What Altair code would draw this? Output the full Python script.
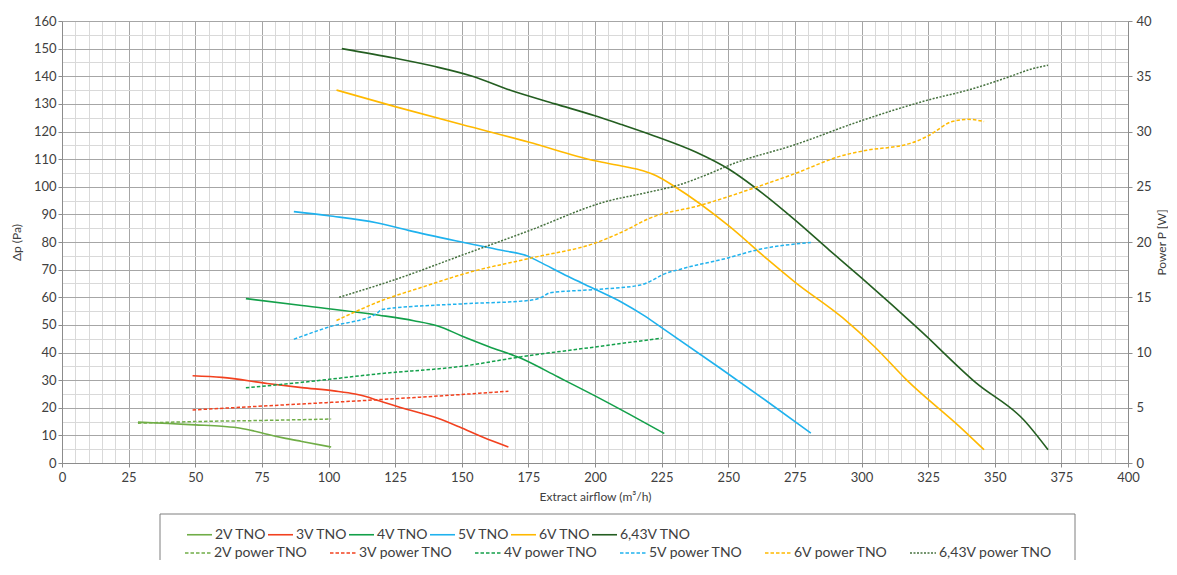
import altair as alt
import pandas as pd

# ---------------- data ----------------
solid_names = ["2V TNO", "3V TNO", "4V TNO", "5V TNO", "6V TNO", "6,43V TNO"]
power_names = ["2V power TNO", "3V power TNO", "4V power TNO",
               "5V power TNO", "6V power TNO", "6,43V power TNO"]

# pressure curves: airflow (m3/h) / delta p (Pa)
q_2v = [28.5, 40, 50, 60, 67, 72, 77, 83, 90, 101]
dp_2v = [14.8, 14.3, 13.8, 13.3, 12.6, 11.6, 10.4, 9.1, 7.8, 5.8]

q_3v = [49, 60, 77, 90, 102, 110, 114, 119, 127, 141, 149, 158, 167.5]
dp_3v = [31.6, 31.0, 28.8, 27.3, 26.1, 25.0, 24.1, 22.5, 20.1, 16.2, 13.1, 9.3, 5.8]

q_4v = [69, 90, 119, 132, 141, 150, 160, 172, 186, 200, 213, 226]
dp_4v = [59.5, 57.0, 53.5, 51.5, 49.6, 46.0, 42.2, 38.0, 31.2, 24.3, 17.6, 10.7]

q_5v = [87, 100, 118, 130, 150, 165, 175, 179, 190, 200, 210, 218, 225, 247, 265, 281]
dp_5v = [91, 89.5, 87, 84.2, 80, 77, 74.8, 72.9, 67.5, 62.9, 58.2, 53.6, 49, 34.3, 22, 10.8]

q_6v = [103, 125, 150, 175, 200, 210, 218, 223, 230, 250, 265, 275, 293, 305, 317, 337, 346]
dp_6v = [135, 129, 122.5, 116.2, 109.4, 107.5, 105.8, 104, 100, 86, 73.5, 65.5, 52.5, 42, 30, 13, 4.8]

q_643v = [105, 125, 140, 154, 168, 185, 200, 210, 222, 238, 250, 263, 275, 288, 300, 322, 343, 361, 370]
dp_643v = [150, 146.5, 143.5, 140, 135, 130, 125.7, 122.5, 118.5, 112.5, 106.5, 97.5, 88, 77, 67, 48, 29, 15.5, 4.8]

# power curves: airflow (m3/h) / power (W)
qp_2v = [28.5, 50, 75, 101]
w_2v = [3.6, 3.75, 3.85, 3.98]

qp_3v = [49, 75, 102, 127, 150, 167.5]
w_3v = [4.8, 5.15, 5.5, 5.85, 6.2, 6.5]

qp_4v = [69, 90, 120, 150, 172, 200, 225]
w_4v = [6.8, 7.3, 8.1, 8.75, 9.6, 10.5, 11.3]

qp_5v = [87, 100, 118, 120, 150, 175, 180, 183, 200, 217, 222, 225, 233, 249, 261, 281]
w_5v = [11.2, 12.3, 13.5, 13.9, 14.4, 14.7, 15.0, 15.4, 15.7, 16.1, 16.6, 17.0, 17.6, 18.5, 19.3, 19.95]

qp_6v = [103, 120, 135, 152, 177, 200, 211, 220, 240, 261, 274, 294, 302, 318, 325, 334, 340, 346]
w_6v = [12.9, 14.7, 15.9, 17.2, 18.6, 19.9, 21.0, 22.1, 23.35, 25.0, 26.1, 27.9, 28.3, 28.9, 29.6, 30.9, 31.1, 30.9]

qp_643v = [104, 125, 150, 175, 204, 220, 232, 241, 252, 275, 299, 325, 340, 356, 363, 370]
w_643v = [15, 16.6, 18.8, 21.0, 23.65, 24.5, 25.2, 26.0, 27.1, 28.8, 30.9, 32.85, 33.75, 35.0, 35.6, 36.0]

x_ticks = list(range(0, 401, 5))
y_ticks = list(range(0, 161, 5))
w_ticks = list(range(0, 41, 5))

solid_colors = ["#70AD47", "#F2411F", "#13A04A", "#1FB2EE", "#FFB900", "#245E21"]
power_colors = ["#70AD47", "#F2411F", "#13A04A", "#1FB2EE", "#FFB900", "#46723F"]
power_dash = [[3.5, 2], [3.5, 2], [3.5, 2], [3.5, 2], [3.5, 2], [2, 1.5]]
power_width = [1.5, 1.5, 1.5, 1.5, 1.5, 1.1]


def long_frame(names, xs, ys):
    rows = []
    for n, xv, yv in zip(names, xs, ys):
        for a, b in zip(xv, yv):
            rows.append({"series": n, "airflow": a, "value": b})
    return pd.DataFrame(rows)


df_dp = long_frame(solid_names, [q_2v, q_3v, q_4v, q_5v, q_6v, q_643v],
                   [dp_2v, dp_3v, dp_4v, dp_5v, dp_6v, dp_643v])
df_w = long_frame(power_names, [qp_2v, qp_3v, qp_4v, qp_5v, qp_6v, qp_643v],
                  [w_2v, w_3v, w_4v, w_5v, w_6v, w_643v])

FONT = "Lato"
TXT = "#404040"
MAJOR = "#A6A6A6"
MINOR = "#D9D9D9"

x_axis = alt.Axis(
    values=x_ticks,
    labelExpr="datum.value % 25 === 0 ? datum.label : ''",
    gridColor={"condition": {"test": "datum.value % 25 === 0", "value": MAJOR}, "value": MINOR},
    tickOpacity={"condition": {"test": "datum.value % 25 === 0", "value": 1}, "value": 0},
    title="Extract airflow (m³/h)",
    labelOverlap=False, labelFlush=False,
    tickSize=4, labelPadding=4, titlePadding=7,
    domainColor="#8C8C8C", tickColor="#8C8C8C",
)

x_enc = alt.X("airflow:Q", scale=alt.Scale(domain=[0, 400], nice=False, zero=False), axis=x_axis)

pressure = alt.Chart(df_dp).mark_line(interpolate="monotone", strokeWidth=1.6).encode(
    x=x_enc,
    y=alt.Y("value:Q", scale=alt.Scale(domain=[0, 160], nice=False),
            axis=alt.Axis(
                values=y_ticks,
                labelExpr="datum.value % 10 === 0 ? datum.label : ''",
                gridColor={"condition": {"test": "datum.value % 10 === 0", "value": MAJOR}, "value": MINOR},
                tickOpacity={"condition": {"test": "datum.value % 10 === 0", "value": 1}, "value": 0},
                title="Δp (Pa)", labelOverlap=False, labelFlush=False,
                tickSize=4, labelPadding=2, titlePadding=10,
                domainColor="#8C8C8C", tickColor="#8C8C8C")),
    color=alt.Color("series:N", scale=alt.Scale(domain=solid_names, range=solid_colors),
                    legend=alt.Legend(orient="none", legendX=124, legendY=500, direction="horizontal",
                                      title=None, symbolType="stroke", symbolSize=625,
                                      symbolStrokeWidth=1.6, labelFontSize=14, labelFont=FONT,
                                      labelColor=TXT, columnPadding=-10, labelOffset=2, padding=0)),
)

leg2 = alt.Legend(orient="none", legendX=122, legendY=518, direction="horizontal",
                  title=None, symbolType="stroke", symbolSize=676,
                  symbolStrokeWidth=1.5, labelFontSize=14, labelFont=FONT,
                  labelColor=TXT, columnPadding=19, labelOffset=2, padding=0)

power = alt.Chart(df_w).mark_line(interpolate="monotone").encode(
    x=x_enc,
    y=alt.Y("value:Q", scale=alt.Scale(domain=[0, 40], nice=False),
            axis=alt.Axis(orient="right", values=w_ticks, grid=False, title="Power P [W]",
                          titleAngle=270, titleBaseline="top", tickSize=4, labelPadding=4,
                          titlePadding=5, domainColor="#8C8C8C", tickColor="#8C8C8C")),
    color=alt.Color("series:N", scale=alt.Scale(domain=power_names, range=power_colors), legend=leg2),
    strokeDash=alt.StrokeDash("series:N", scale=alt.Scale(domain=power_names, range=power_dash), legend=leg2),
    strokeWidth=alt.StrokeWidth("series:N", scale=alt.Scale(domain=power_names, range=power_width), legend=None),
)

legend_frame = alt.Chart(pd.DataFrame({"k": [0]})).mark_rect(
    fill="transparent", stroke="#7F7F7F", strokeWidth=1
).encode(x=alt.value(98), x2=alt.value(1013), y=alt.value(493), y2=alt.value(600))

chart = alt.layer(pressure, power, legend_frame).resolve_scale(
    y="independent", color="independent", strokeDash="independent", strokeWidth="independent"
).properties(
    width=1066, height=442,
    padding={"left": 54, "top": 13, "right": 40, "bottom": 97},
    autosize=alt.AutoSizeParams(type="none"),
    background="white",
).configure_view(stroke=None).configure_axis(
    labelFont=FONT, titleFont=FONT, labelFontSize=13, titleFontSize=12,
    labelColor=TXT, titleColor=TXT, titleFontWeight="normal",
)

chart.save("out.html", embed_options={"renderer": "svg", "actions": False})
